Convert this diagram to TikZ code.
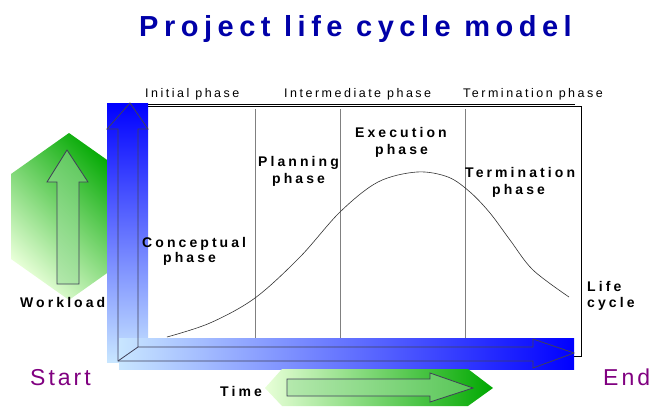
\documentclass[tikz,border=0pt]{standalone}
\usepackage{fontspec}
\setmainfont{Liberation Sans}
\newfontfamily\titlefont[LetterSpace=19]{Liberation Sans}
\newfontfamily\lblfont[LetterSpace=22]{Liberation Sans}
\newfontfamily\hdrfont[LetterSpace=20]{Liberation Sans}
\newfontfamily\sefont[LetterSpace=13]{Liberation Sans}
\definecolor{titleblue}{HTML}{0000A8}
\definecolor{barblue}{HTML}{0000FF}
\definecolor{lightblue}{HTML}{C8E6FF}
\definecolor{darkgreen}{HTML}{00A800}
\definecolor{lightgreen}{HTML}{E8FFD8}
\definecolor{purp}{HTML}{800080}
\definecolor{outl}{HTML}{404058}
\tikzset{
  lbl/.style={anchor=base west, inner sep=0pt, font=\lblfont\bfseries\fontsize{14}{16}\selectfont},
  hdr/.style={anchor=base west, inner sep=0pt, font=\hdrfont\fontsize{12.5}{14}\selectfont},
  se/.style={anchor=base west, inner sep=0pt, text=purp, font=\sefont\fontsize{23}{25}\selectfont},
  divider/.style={draw=gray, line width=0.8pt},
  outline/.style={draw=outl, line width=0.8pt},
}
\begin{document}
\begin{tikzpicture}[x=1pt,y=-1pt]
\useasboundingbox (0,0) rectangle (665,418);
% title
\node[anchor=base west, inner sep=0pt, text=titleblue, font=\titlefont\bfseries\fontsize{29}{31}\selectfont] (title) at (139,36) {Project life cycle model};
% headers
\node[hdr] (h1) at (145,97) {Initial phase};
\node[hdr] (h2) at (284,97) {Intermediate phase};
\node[hdr] (h3) at (463,97) {Termination phase};
% left hexagon
\shade[bottom color=lightgreen, top color=darkgreen, shading angle=-45]
  (69,133) -- (127,174) -- (127,259) -- (69,300) -- (11,259) -- (11,174) -- cycle;
\draw[outline, fill=darkgreen!40, fill opacity=0.5]
  (57,284) -- (57,182) -- (47,182) -- (67,150) -- (88,182) -- (79,182) -- (79,284) -- cycle;
% box
\draw[black, line width=1pt] (147,104) -- (575,104);
\draw[black, line width=1pt] (148,106) -- (581,106) -- (581,356) -- (574,356);
% dividers
\draw[divider] (255,109) -- (255,338);
\draw[divider] (340,109) -- (340,338);
\draw[divider] (465,109) -- (465,338);
% curve
\draw[draw=black!80, line width=0.6pt] plot[smooth, tension=0.55] coordinates
  {(167,337) (210,323) (255,298) (300,257) (340,212) (378,182) (417,172) (448,177) (470,192) (490,213) (510,240) (533,270) (569,297)};
% blue bars
\shade[top color=barblue, bottom color=lightblue] (107,103) rectangle (148,362);
\shade[left color=lightblue, right color=barblue] (119,338) rectangle (574,369);
\draw[outline, line join=miter]
  (118,361) -- (118,129) -- (107,129) -- (130,103) -- (148,129) -- (138,129) -- (138,347)
  -- (533,347) -- (533,339) -- (574,353) -- (533,368) -- (533,361) -- cycle;
\draw[outline] (118,361) -- (138,347);
% bottom hexagon
\shade[left color=lightgreen, right color=darkgreen]
  (265,388) -- (282,369) -- (468,369) -- (493,388) -- (468,406) -- (282,406) -- cycle;
\draw[outline, fill=darkgreen!40, fill opacity=0.5]
  (287,379) -- (430,379) -- (430,373) -- (473,388) -- (430,402) -- (430,396) -- (287,396) -- cycle;
% labels
\node[lbl] (workload) at (20,307) {Workload};
\node[lbl] (time) at (220,396) {Time};
\node[se] (start) at (30,385) {Start};
\node[se] (end) at (603,385) {End};
\node[lbl] (conc1) at (142,247) {Conceptual};
\node[lbl] (conc2) at (163,262) {phase};
\node[lbl] (plan1) at (258,166) {Planning};
\node[lbl] (plan2) at (272,183) {phase};
\node[lbl] (exec1) at (355,137) {Execution};
\node[lbl] (exec2) at (375,154) {phase};
\node[lbl] (term1) at (465,177) {Termination};
\node[lbl] (term2) at (492,194) {phase};
\node[lbl] (life1) at (587,291) {Life};
\node[lbl] (life2) at (587,307) {cycle};
\end{tikzpicture}
\end{document}
